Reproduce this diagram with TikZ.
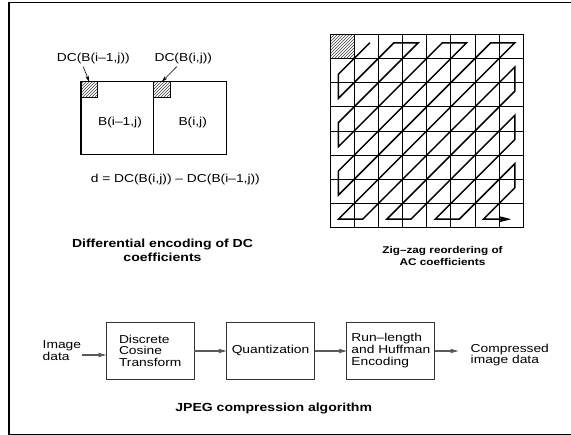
\documentclass[tikz,border=0pt]{standalone}
\usepackage{fontspec}
\setmainfont{Liberation Sans}[FakeStretch=1.2]
\usetikzlibrary{arrows.meta,patterns}
\begin{document}
\begin{tikzpicture}[x=1pt,y=-1pt,
  every node/.style={inner sep=0pt,outer sep=0pt},
  txt/.style={font=\fontsize{11.5}{11.7}\selectfont},
  ttl/.style={font=\fontsize{11.7}{14}\selectfont\bfseries,align=center},
  ttlsmall/.style={font=\fontsize{9.8}{11.3}\selectfont\bfseries,align=center},
  frame/.style={line width=1.3pt},
  blockline/.style={line width=1.3pt},
  hatch/.style={pattern=north east lines,pattern color=black!75},
  pointer/.style={line width=0.6pt,-{Stealth[length=6pt,width=3.5pt]}},
  gridline/.style={line width=0.8pt},
  zigzag/.style={line width=1.5pt,-{Stealth[length=12pt,width=6pt,inset=2pt]}},
  stage/.style={draw=black!80,line width=0.9pt,minimum width=88pt,minimum height=56.7pt,align=left,txt},
  flow/.style={draw=black!65,line width=1.1pt,-{Stealth[length=8pt,width=4.5pt,inset=1.5pt]}}
]
\useasboundingbox (0,0) rectangle (571,435);
% outer frame
\draw[frame] (9,2.7) rectangle (590,434.2);

% ---- differential encoding of DC coefficients ----
\draw[blockline] (81,81.7) rectangle (153.7,154.3);
\draw[blockline] (153.7,81.7) rectangle (226.7,154.3);
\node[draw,line width=1pt,hatch,minimum size=16.3pt,anchor=north west] (hA) at (81,81.7) {};
\node[draw,line width=1pt,hatch,minimum size=16.3pt,anchor=north west] (hB) at (153.7,81.7) {};
\node[txt] (lA) at (120,122.7) {B(i–1,j)};
\node[txt] (lB) at (192.7,122.7) {B(i,j)};
\node[txt] (dcA) at (93.3,58.3) {DC(B(i–1,j))};
\node[txt] (dcB) at (183.3,58.3) {DC(B(i,j))};
\coordinate (pA) at (83.3,66.7);
\coordinate (pB) at (176.7,66.7);
\draw[pointer] (pA) -- (hA.north);
\draw[pointer] (pB) -- (hB.north);
\node[txt] (eq) at (175.3,180) {d = DC(B(i,j)) – DC(B(i–1,j))};
\node[ttl] (t1) at (162.5,250) {Differential encoding of DC\\coefficients};

% ---- zig-zag reordering of AC coefficients ----
\begin{scope}[shift={(330,34.3)},x=24.17pt,y=-24.17pt]
  \fill[hatch] (0,0) rectangle (1,1);
  \foreach \i in {0,...,8} {
    \draw[gridline] (\i,0) -- (\i,8);
    \draw[gridline] (0,\i) -- (8,\i);
  }
  \draw[zigzag] (1.65,.35) -- (.35,1.65) -- (.35,2.65) -- (2.65,.35) -- (3.65,.35)
    -- (.35,3.65) -- (.35,4.65) -- (4.65,.35) -- (5.65,.35)
    -- (.35,5.65) -- (.35,6.65) -- (6.65,.35) -- (7.65,.35)
    -- (.35,7.65) -- (1.35,7.65) -- (7.65,1.35) -- (7.65,2.35)
    -- (2.35,7.65) -- (3.35,7.65) -- (7.65,3.35) -- (7.65,4.35)
    -- (4.35,7.65) -- (5.35,7.65) -- (7.65,5.35) -- (7.65,6.35)
    -- (6.35,7.65) -- (7.5,7.65);
\end{scope}
\node[ttlsmall] (t2) at (442.5,256) {Zig–zag reordering of\\AC coefficients};

% ---- JPEG compression pipeline ----
\node[txt,align=left,anchor=west] (in) at (42.7,350.5) {Image\\data};
\node[stage] (dct) at (150.2,350.7) {Discrete\\Cosine\\Transform};
\node[stage] (q) at (270.5,350.7) {Quantization};
\node[stage] (rle) at (390.8,350.7) {Run–length\\and Huffman\\Encoding};
\node[txt,align=left,anchor=west] (out) at (470.7,355) {Compressed\\image data};
\coordinate (inS) at (81.7,355);
\coordinate (outE) at (458.3,351);
\draw[flow] (inS) -- (inS -| dct.west);
\draw[flow] (dct.east |- outE) -- (q.west |- outE);
\draw[flow] (q.east |- outE) -- (rle.west |- outE);
\draw[flow] (rle.east |- outE) -- (outE);
\node[ttl] (t3) at (273.7,408.3) {JPEG compression algorithm};
\end{tikzpicture}
\end{document}
